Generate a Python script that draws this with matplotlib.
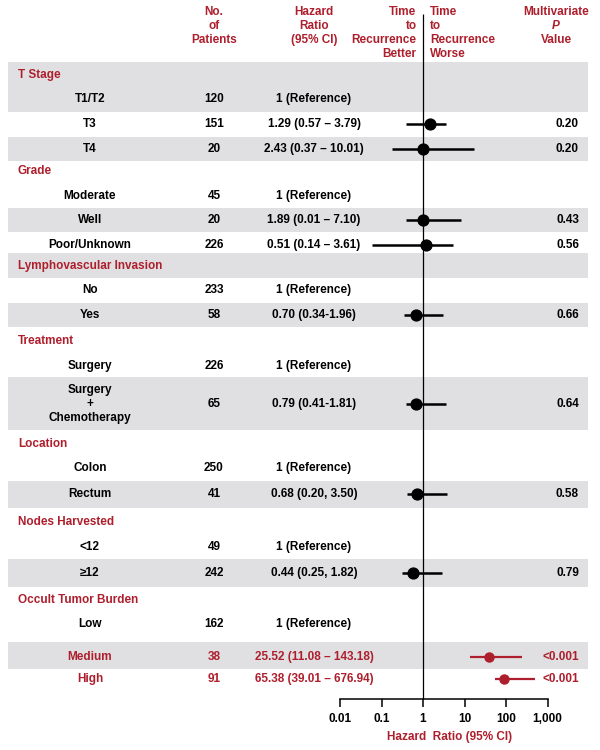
import matplotlib

matplotlib.use("Agg")
import matplotlib.pyplot as plt  # noqa: E402
from matplotlib.ticker import NullLocator  # noqa: E402

plt.rcParams["font.family"] = ["Liberation Sans", "DejaVu Sans"]
plt.rcParams["font.weight"] = "bold"

RED = "#AE1F2D"
GRAY = "#E0E0E2"
FS = 8.5

# ---- data --------------------------------------------------------------
sections = ["T Stage", "Grade", "Lymphovascular Invasion", "Treatment",
            "Location", "Nodes Harvested", "Occult Tumor Burden"]

labels = ["T1/T2", "T3", "T4",
          "Moderate", "Well", "Poor/Unknown",
          "No", "Yes",
          "Surgery", "Surgery\n+\nChemotherapy",
          "Colon", "Rectum",
          "<12", "\u226512",
          "Low", "Medium", "High"]

n_patients = [120, 151, 20, 45, 20, 226, 233, 58, 226, 65,
              250, 41, 49, 242, 162, 38, 91]

hr_text = ["1 (Reference)", "1.29 (0.57 \u2013 3.79)", "2.43 (0.37 \u2013 10.01)",
           "1 (Reference)", "1.89 (0.01 \u2013 7.10)", "0.51 (0.14 \u2013 3.61)",
           "1 (Reference)", "0.70 (0.34-1.96)",
           "1 (Reference)", "0.79 (0.41-1.81)",
           "1 (Reference)", "0.68 (0.20, 3.50)",
           "1 (Reference)", "0.44 (0.25, 1.82)",
           "1 (Reference)", "25.52 (11.08 \u2013 143.18)", "65.38 (39.01 \u2013 676.94)"]

p_values = ["", "0.20", "0.20", "", "0.43", "0.56", "", "0.66", "", "0.64",
            "", "0.58", "", "0.79", "", "<0.001", "<0.001"]

# marker positions as drawn in the figure (None = reference row)
plot_hr = [None, 1.47, 1.0, None, 0.98, 1.16, None, 0.68, None, 0.68,
           None, 0.73, None, 0.56, None, 38.9, 91.5]
plot_lo = [None, 0.38, 0.18, None, 0.38, 0.06, None, 0.34, None, 0.38,
           None, 0.42, None, 0.32, None, 13.9, 53.5]
plot_hi = [None, 3.64, 16.9, None, 8.4, 5.3, None, 3.03, None, 3.52,
           None, 3.87, None, 2.93, None, 249, 494]

highlight = [False] * 15 + [True, True]

# ---- layout (pixel rows, y grows downward) -----------------------------
section_y = [75, 171, 265.7, 341, 444, 522.3, 600]
row_y = [99.3, 124.3, 149, 195.7, 220.3, 245, 290, 315.3, 366, 404,
         468.3, 494.3, 546.7, 573.3, 624.3, 656.7, 679.3]
bands = [(61.7, 111.7), (136.7, 161), (207.7, 232.3), (253.3, 277.7),
         (302.5, 326.7), (377, 430), (480.7, 508.3), (559.3, 586.7),
         (641.7, 669.3)]
axis_y = 699.3
px_per_decade = 41.5
x_one = 423

fig = plt.figure(figsize=(6, 7.5), dpi=100)
bg = fig.add_axes([0, 0, 1, 1])
bg.set_xlim(0, 600)
bg.set_ylim(750, 0)
bg.axis("off")

for y0, y1 in bands:
    bg.axhspan(y0, y1, xmin=8 / 600, xmax=588 / 600, color=GRAY, lw=0, zorder=0)

# header
hdr = dict(color=RED, fontsize=FS, fontweight="bold", va="center")
head_y = [11.7, 25.7, 40, 54.3]
for i, t in enumerate(["No.", "of", "Patients"]):
    bg.text(214, head_y[i], t, ha="center", **hdr)
for i, t in enumerate(["Hazard", "Ratio", "(95% CI)"]):
    bg.text(314, head_y[i], t, ha="center", **hdr)
for i, t in enumerate(["Time", "to", "Recurrence", "Better"]):
    bg.text(416.5, head_y[i], t, ha="right", **hdr)
for i, t in enumerate(["Time", "to", "Recurrence", "Worse"]):
    bg.text(430, head_y[i], t, ha="left", **hdr)
bg.text(556, head_y[0], "Multivariate", ha="center", **hdr)
bg.text(556, head_y[1], "P", ha="center", style="italic", **hdr)
bg.text(556, head_y[2], "Value", ha="center", **hdr)

for name, y in zip(sections, section_y):
    bg.text(18, y, name, ha="left", va="center", color=RED, fontsize=FS)

for i, y in enumerate(row_y):
    c = RED if highlight[i] else "black"
    bg.text(90, y, labels[i], ha="center", va="center", color=c,
            fontsize=FS, linespacing=1.25)
    bg.text(214, y, str(n_patients[i]), ha="center", va="center", color=c, fontsize=FS)
    bg.text(314, y, hr_text[i], ha="center", va="center", color=c, fontsize=FS)
    if p_values[i]:
        bg.text(579, y, p_values[i], ha="right", va="center", color=c, fontsize=FS)

# forest panel
left = x_one - 2 * px_per_decade
width = 5 * px_per_decade
ax = fig.add_axes([left / 600, 1 - axis_y / 750, width / 600, axis_y / 750])
ax.patch.set_alpha(0)
ax.set_xscale("log")
ax.set_xlim(0.01, 1000)
ax.set_ylim(axis_y, 0)
for s in ["top", "left", "right"]:
    ax.spines[s].set_visible(False)
ax.spines["bottom"].set_linewidth(1.1)
ax.set_yticks([])
ticks = [0.01, 0.1, 1, 10, 100, 1000]
ax.set_xticks(ticks)
ax.set_xticklabels(["0.01", "0.1", "1", "10", "100", "1,000"],
                   fontsize=FS, fontweight="bold")
ax.xaxis.set_minor_locator(NullLocator())
ax.tick_params(axis="x", direction="out", length=6, width=1.1, pad=4)
ax.set_xlabel("Hazard  Ratio (95% CI)", color=RED, fontsize=FS,
              fontweight="bold", labelpad=3)
ax.xaxis.set_label_coords(0.53, -0.045)

ax.vlines(1, 14, axis_y, color="black", lw=0.9, zorder=2)

for i, y in enumerate(row_y):
    if plot_hr[i] is None:
        continue
    c = RED if highlight[i] else "black"
    ms = 6.5 if highlight[i] else 7.8
    lw = 1.6 if highlight[i] else 1.8
    ax.hlines(y, plot_lo[i], plot_hi[i], color=c, lw=lw, zorder=3)
    ax.plot(plot_hr[i], y, "o", color=c, ms=ms, zorder=4)

fig.savefig("out.png", dpi=100)
